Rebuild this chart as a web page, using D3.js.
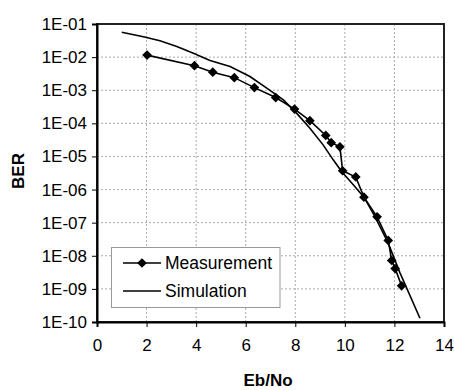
<!DOCTYPE html>
<html><head><meta charset="utf-8">
<script src="https://cdn.jsdelivr.net/npm/d3@7"></script>
<style>html,body{margin:0;padding:0;background:#fff}svg{display:block}text{font-family:"Liberation Sans",Arial,sans-serif}</style>
</head><body>
<script>
const measX = [2.02, 3.93, 4.67, 5.54, 6.35, 7.21, 7.97, 8.59, 9.23, 9.45, 9.80, 9.91, 10.44, 10.77, 11.30, 11.75, 11.89, 12.03, 12.29];
const measY = [1.15e-2, 5.5e-3, 3.5e-3, 2.4e-3, 1.2e-3, 6.0e-4, 2.7e-4, 1.2e-4, 4.3e-5, 2.6e-5, 1.95e-5, 3.7e-6, 2.4e-6, 5.9e-7, 1.5e-7, 2.9e-8, 7.2e-9, 4.1e-9, 1.24e-9];
const simX = [1.0, 1.87, 2.54, 3.22, 3.89, 4.56, 5.37, 6.17, 6.85, 7.52, 8.06, 8.59, 9.13, 9.53, 9.87, 10.34, 10.77, 11.22, 11.75, 12.22, 13.03];
const simY = [5.6e-2, 4.1e-2, 3.1e-2, 2.1e-2, 1.3e-2, 7.9e-3, 5.2e-3, 2.6e-3, 1.15e-3, 5.1e-4, 2.0e-4, 7.1e-5, 2.2e-5, 7.9e-6, 3.5e-6, 1.4e-6, 5.9e-7, 1.5e-7, 2.4e-8, 3.1e-9, 1.3e-10];
const xTicks = [0, 2, 4, 6, 8, 10, 12, 14];
const yTicks = [1e-1, 1e-2, 1e-3, 1e-4, 1e-5, 1e-6, 1e-7, 1e-8, 1e-9, 1e-10];
const yTickLabels = ["1E-01","1E-02","1E-03","1E-04","1E-05","1E-06","1E-07","1E-08","1E-09","1E-10"];
const seriesNames = ["Measurement", "Simulation"];
const xTitle = "Eb/No", yTitle = "BER";

const W = 454, H = 390;
const L = 97, R = 444, T = 24, B = 322;
const svg = d3.select("body").append("svg").attr("width", W).attr("height", H);
const x = d3.scaleLinear().domain([0, 14]).range([L, R]);
const y = d3.scaleLog().domain([1e-10, 1e-1]).range([B, T]);

// gridlines
const g = svg.append("g");
g.selectAll(".hg").data(yTicks.slice(1, -1)).enter().append("line")
  .attr("x1", L).attr("x2", R).attr("y1", d => y(d)).attr("y2", d => y(d))
  .attr("stroke", "#aaa").attr("stroke-width", 1).attr("stroke-dasharray", "2,2");
g.selectAll(".vg").data(xTicks.slice(1, -1)).enter().append("line")
  .attr("y1", T).attr("y2", B).attr("x1", d => x(d)).attr("x2", d => x(d))
  .attr("stroke", "#aaa").attr("stroke-width", 1).attr("stroke-dasharray", "2,2");

// frame
svg.append("rect").attr("x", L).attr("y", T).attr("width", R - L).attr("height", B - T)
  .attr("fill", "none").attr("stroke", "#222").attr("stroke-width", 2);

// axes
const yAxis = d3.axisLeft(y).tickValues(yTicks).tickFormat((d, i) => yTickLabels[i]).tickSize(5).tickPadding(5);
const ya = svg.append("g").attr("transform", `translate(${L},0)`).call(yAxis);
const xAxis = d3.axisBottom(x).tickValues(xTicks).tickSize(5).tickPadding(12);
const xa = svg.append("g").attr("transform", `translate(0,${B})`).call(xAxis);
[ya, xa].forEach(a => {
  a.select(".domain").attr("stroke", "#000").attr("stroke-width", 2);
  a.selectAll(".tick line").attr("stroke", "#000").attr("stroke-width", 1);
  a.selectAll(".tick text").attr("font-size", 17).attr("fill", "#000").attr("font-family", '"Liberation Sans",Arial,sans-serif');
});

// lines
const simData = simX.map((v, i) => [v, simY[i]]);
const measData = measX.map((v, i) => [v, measY[i]]);
const line = d3.line().x(d => x(d[0])).y(d => y(d[1]));
svg.append("path").datum(simData).attr("d", line).attr("fill", "none").attr("stroke", "#000").attr("stroke-width", 1.6);
svg.append("path").datum(measData).attr("d", line).attr("fill", "none").attr("stroke", "#000").attr("stroke-width", 1.6);
const diamond = d3.symbol().type(d3.symbolDiamond2).size(60);
svg.selectAll(".pt").data(measData).enter().append("path")
  .attr("d", diamond).attr("transform", d => `translate(${x(d[0])},${y(d[1])})`).attr("fill", "#000");

// legend
const lg = svg.append("g");
lg.append("rect").attr("x", 111.5).attr("y", 247.5).attr("width", 168.5).attr("height", 60)
  .attr("fill", "#fff").attr("stroke", "#999").attr("stroke-width", 1);
const ly = [263, 291];
seriesNames.forEach((n, i) => {
  lg.append("line").attr("x1", 123).attr("x2", 161).attr("y1", ly[i]).attr("y2", ly[i]).attr("stroke", "#000").attr("stroke-width", 1.6);
  if (i === 0) lg.append("path").attr("d", diamond).attr("transform", `translate(142,${ly[i]})`).attr("fill", "#000");
  lg.append("text").attr("x", 165).attr("y", ly[i]).attr("dy", "0.36em").attr("font-size", 17.5).text(n);
});

// titles
svg.append("text").attr("x", 268).attr("y", 380).attr("dy", "0.36em").attr("text-anchor", "middle")
  .attr("font-size", 17).attr("font-weight", "bold").text(xTitle);
svg.append("text").attr("transform", "translate(18,171) rotate(-90)").attr("dy", "0.36em").attr("text-anchor", "middle")
  .attr("font-size", 17).attr("font-weight", "bold").text(yTitle);
</script>
</body></html>
